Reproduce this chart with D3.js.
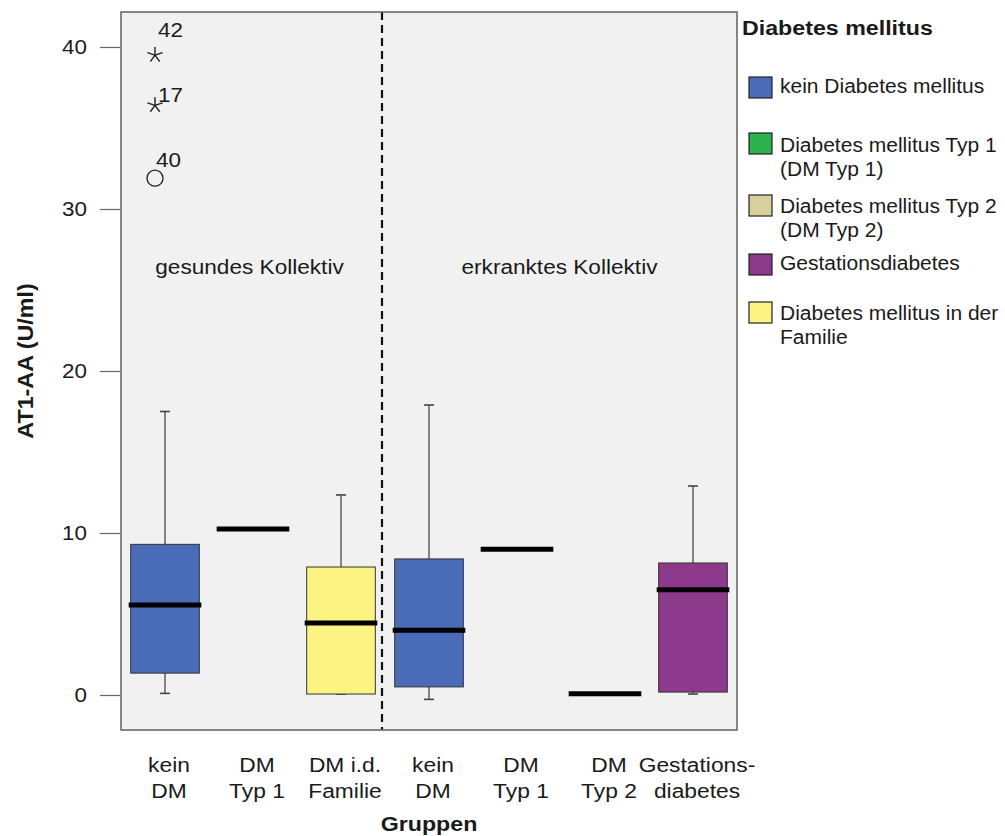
<!DOCTYPE html>
<html>
<head>
<meta charset="utf-8">
<script src="https://cdn.jsdelivr.net/npm/d3@7"></script>
<style>
  body { margin: 0; background: #fff; }
  text { font-family: "Liberation Sans", Arial, sans-serif; fill: #1a1a1a; }
</style>
</head>
<body>
<div id="chart"></div>
<script>
// categories along the x axis (two text lines each)
var labelTop    = ["kein", "DM", "DM i.d.", "kein", "DM", "DM", "Gestations-"];
var labelBottom = ["DM", "Typ 1", "Familie", "DM", "Typ 1", "Typ 2", "diabetes"];
var catType     = ["kein", "typ1", "familie", "kein", "typ1", "typ2", "gest"];

// box plot values (U/ml)
var whiskerLow  = [0.1, 10.25, 0.06, -0.27, 9.0, 0.08, 0.06];
var q1          = [1.35, 10.25, 0.06, 0.5, 9.0, 0.08, 0.18];
var median      = [5.55, 10.25, 4.45, 4.0, 9.0, 0.08, 6.5];
var q3          = [9.3, 10.25, 7.9, 8.4, 9.0, 0.08, 8.15];
var whiskerHigh = [17.5, 10.25, 12.35, 17.9, 9.0, 0.08, 12.9];

// outliers
var outlierCat   = [0, 0, 0];
var outlierValue = [39.5, 36.4, 31.9];
var outlierShape = ["star", "star", "circle"];
var outlierId    = ["42", "17", "40"];

var yTicks = [0, 10, 20, 30, 40];

// legend
var legendKeys   = ["kein", "typ1", "typ2", "gest", "familie"];
var legendLines  = [["kein Diabetes mellitus"],
                    ["Diabetes mellitus  Typ 1", "(DM Typ 1)"],
                    ["Diabetes mellitus Typ 2", "(DM Typ 2)"],
                    ["Gestationsdiabetes"],
                    ["Diabetes mellitus in der", "Familie"]];
var legendColors = ["#4a6bb8", "#2cb34e", "#d8d09c", "#8d398c", "#fbf482"];

var groupNames = ["gesundes Kollektiv", "erkranktes Kollektiv"];

var color = d3.scaleOrdinal().domain(legendKeys).range(legendColors);

var W = 1005, H = 836;
var plotL = 121, plotR = 737, plotT = 12, plotB = 730;

var svg = d3.select("#chart").append("svg")
    .attr("width", W).attr("height", H);

var idx = d3.range(labelTop.length);

var x = d3.scaleBand().domain(idx).range([plotL, plotR])
    .paddingInner(0.22).paddingOuter(0.11);
var y = d3.scaleLinear().domain([-2.16, 42.16]).range([plotB, plotT]);

// plot background
svg.append("rect")
    .attr("x", plotL).attr("y", plotT)
    .attr("width", plotR - plotL).attr("height", plotB - plotT)
    .attr("fill", "#f1f1f1");

// y axis
var yAxis = svg.append("g")
    .attr("transform", "translate(" + plotL + ",0)")
    .call(d3.axisLeft(y).tickValues(yTicks).tickSize(21).tickPadding(13));
yAxis.select(".domain").remove();
yAxis.selectAll("line").attr("stroke", "#666").attr("stroke-width", 1.2);
yAxis.selectAll("text").attr("font-size", 20).attr("class", "stretch").attr("data-s", 1.12)
    .style("font-family", "Liberation Sans, Arial, sans-serif").attr("fill", "#1a1a1a");

// divider between the two groups
var divX = (x(2) + x.bandwidth() + x(3)) / 2 - 3;
svg.append("line")
    .attr("x1", divX).attr("x2", divX)
    .attr("y1", plotT).attr("y2", plotB)
    .attr("stroke", "#111").attr("stroke-width", 2.2)
    .attr("stroke-dasharray", "8,5");

// group names
svg.append("text").attr("class", "stretch").attr("data-s", 1.13)
    .attr("x", (plotL + divX) / 2 - 2).attr("y", 274)
    .attr("text-anchor", "middle").attr("font-size", 20)
    .text(groupNames[0]);
svg.append("text").attr("class", "stretch").attr("data-s", 1.13)
    .attr("x", (divX + plotR) / 2).attr("y", 274)
    .attr("text-anchor", "middle").attr("font-size", 20)
    .text(groupNames[1]);

// boxes
var bw = x.bandwidth();
var boxes = svg.selectAll("g.box").data(idx).enter().append("g").attr("class", "box");

boxes.each(function(i) {
    var g = d3.select(this);
    var cx = x(i) + bw / 2;
    if (whiskerHigh[i] > whiskerLow[i]) {
        g.append("line")
            .attr("x1", cx).attr("x2", cx)
            .attr("y1", y(whiskerHigh[i])).attr("y2", y(whiskerLow[i]))
            .attr("stroke", "#555").attr("stroke-width", 1.4);
        [whiskerHigh[i], whiskerLow[i]].forEach(function(v) {
            g.append("line")
                .attr("x1", cx - 5).attr("x2", cx + 5)
                .attr("y1", y(v)).attr("y2", y(v))
                .attr("stroke", "#444").attr("stroke-width", 1.6);
        });
    }
    if (q3[i] > q1[i]) {
        g.append("rect")
            .attr("x", x(i)).attr("y", y(q3[i]))
            .attr("width", bw).attr("height", y(q1[i]) - y(q3[i]))
            .attr("fill", color(catType[i]))
            .attr("stroke", "#333").attr("stroke-width", 1);
    }
    g.append("line")
        .attr("x1", x(i) - 2).attr("x2", x(i) + bw + 2)
        .attr("y1", y(median[i])).attr("y2", y(median[i]))
        .attr("stroke", "#000").attr("stroke-width", 5);
});

// outliers
function starPath(r) {
    var p = d3.path();
    for (var k = 0; k < 5; k++) {
        var a = -Math.PI / 2 + k * 2 * Math.PI / 5;
        p.moveTo(0, 0);
        p.lineTo(r * Math.cos(a), r * Math.sin(a));
    }
    return p.toString();
}
outlierValue.forEach(function(v, j) {
    var cx = x(outlierCat[j]) + bw / 2 - 10;
    var cy = y(v);
    if (outlierShape[j] === "circle") {
        svg.append("circle").attr("cx", cx).attr("cy", cy).attr("r", 8)
            .attr("fill", "none").attr("stroke", "#222").attr("stroke-width", 1.3);
    } else {
        svg.append("path").attr("d", starPath(8))
            .attr("transform", "translate(" + cx + "," + cy + ")")
            .attr("fill", "none").attr("stroke", "#222").attr("stroke-width", 1.4);
    }
    svg.append("text").attr("class", "stretch").attr("data-s", 1.12)
        .attr("x", cx + (outlierShape[j] === "circle" ? 1 : 3))
        .attr("y", cy - (outlierShape[j] === "circle" ? 11 : 3) - (j === 0 ? 15 : 0))
        .attr("font-size", 20)
        .text(outlierId[j]);
});

// frame
svg.append("rect")
    .attr("x", plotL).attr("y", plotT)
    .attr("width", plotR - plotL).attr("height", plotB - plotT)
    .attr("fill", "none").attr("stroke", "#6a6a6a").attr("stroke-width", 1.6);

// x labels
idx.forEach(function(i) {
    var cx = x(i) + bw / 2 + 4;
    svg.append("text").attr("class", "stretch").attr("data-s", 1.14)
        .attr("x", cx).attr("y", 772).attr("text-anchor", "middle")
        .attr("font-size", 20).text(labelTop[i]);
    svg.append("text").attr("class", "stretch").attr("data-s", 1.14)
        .attr("x", cx).attr("y", 798).attr("text-anchor", "middle")
        .attr("font-size", 20).text(labelBottom[i]);
});

// axis titles
svg.append("text").attr("class", "stretch").attr("data-s", 1.16)
    .attr("x", 429).attr("y", 831)
    .attr("text-anchor", "middle").attr("font-size", 20)
    .attr("font-weight", "bold").text("Gruppen");

svg.append("text").attr("class", "stretch").attr("data-s", 1.06)
    .attr("transform", "translate(33,361) rotate(-90)")
    .attr("text-anchor", "middle").attr("font-size", 22)
    .attr("font-weight", "bold").text("AT1-AA (U/ml)");

// legend
svg.append("text").attr("class", "stretch").attr("data-s", 1.16)
    .attr("x", 742).attr("y", 35).attr("font-size", 20)
    .attr("font-weight", "bold").text("Diabetes mellitus");

var swatchTop = [77, 133, 195, 254, 302];
var textBase  = [93, 152, 213, 270, 320];
legendKeys.forEach(function(k, i) {
    svg.append("rect")
        .attr("x", 749).attr("y", swatchTop[i])
        .attr("width", 23).attr("height", 21)
        .attr("fill", color(k)).attr("stroke", "#222").attr("stroke-width", 1.2);
    legendLines[i].forEach(function(line, li) {
        svg.append("text").attr("class", "stretch").attr("data-s", 1.05)
            .attr("x", 780).attr("y", textBase[i] + li * 24)
            .attr("font-size", 20).text(line);
    });
});

// the source picture is horizontally stretched a bit
svg.selectAll("text.stretch").each(function() {
    var len = this.getComputedTextLength();
    var s = +this.getAttribute("data-s") || 1.1;
    d3.select(this).attr("textLength", len * s).attr("lengthAdjust", "spacingAndGlyphs");
});
</script>
</body>
</html>
